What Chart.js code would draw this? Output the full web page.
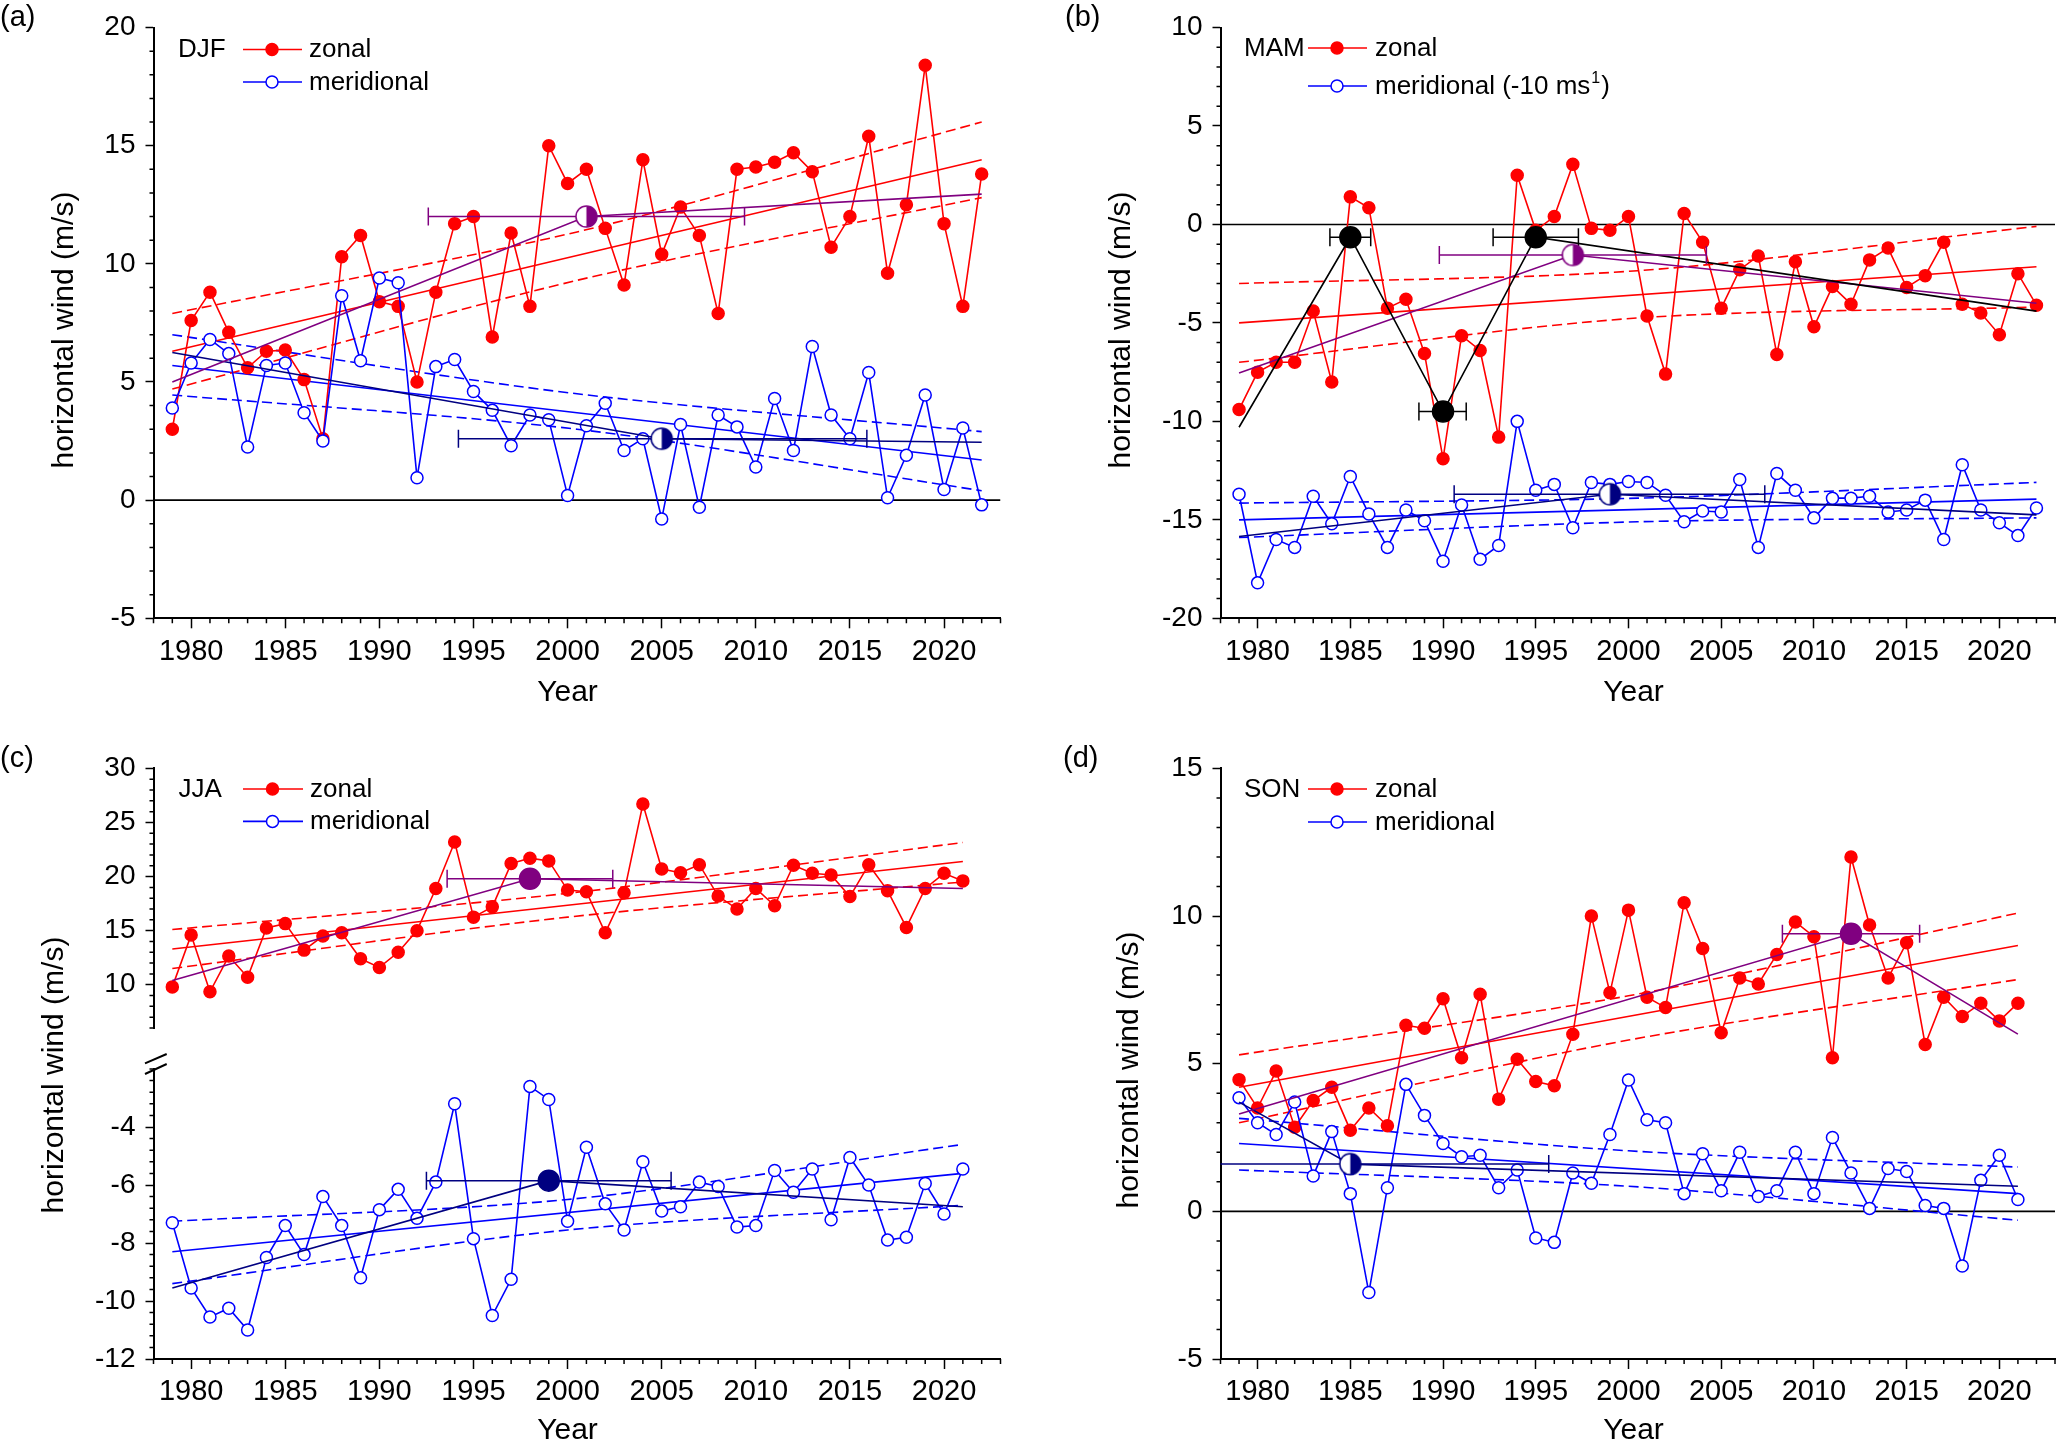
<!DOCTYPE html>
<html>
<head>
<meta charset="utf-8">
<script src="https://cdn.jsdelivr.net/npm/chart.js@4.4.0/dist/chart.umd.min.js"></script>
<style>
  body { margin: 0; background: #fff; }
  #fig { position: relative; width: 2067px; height: 1443px; overflow: hidden; background: #fff; }
  canvas { position: absolute; }
</style>
</head>
<body>
<div id="fig">
  <canvas id="pa"></canvas>
  <canvas id="pb"></canvas>
  <canvas id="pcTop"></canvas>
  <canvas id="pcBot"></canvas>
  <canvas id="pd"></canvas>
</div>
<script>
// ---- data ----
const yearsAB = [1979,1980,1981,1982,1983,1984,1985,1986,1987,1988,1989,1990,1991,1992,1993,1994,1995,1996,1997,1998,1999,2000,2001,2002,2003,2004,2005,2006,2007,2008,2009,2010,2011,2012,2013,2014,2015,2016,2017,2018,2019,2020,2021,2022];
const yearsCD = [1979,1980,1981,1982,1983,1984,1985,1986,1987,1988,1989,1990,1991,1992,1993,1994,1995,1996,1997,1998,1999,2000,2001,2002,2003,2004,2005,2006,2007,2008,2009,2010,2011,2012,2013,2014,2015,2016,2017,2018,2019,2020,2021];

const xTickYears = [1980,1985,1990,1995,2000,2005,2010,2015,2020];
const yTicksA = [-5,0,5,10,15,20];
const yTicksB = [-20,-15,-10,-5,0,5,10];
const yTicksCTop = [10,15,20,25,30];
const yTicksCBot = [-12,-10,-8,-6,-4];
const yTicksD = [-5,0,5,10,15];

// DJF
const djfZonal = [3.0,7.6,8.8,7.1,5.6,6.3,6.35,5.1,2.6,10.3,11.2,8.4,8.2,5.0,8.8,11.7,12.0,6.9,11.3,8.2,15.0,13.4,14.0,11.5,9.1,14.4,10.4,12.4,11.2,7.9,14.0,14.1,14.3,14.7,13.9,10.7,12.0,15.4,9.6,12.5,18.4,11.7,8.2,13.8];
const djfMerid = [3.9,5.8,6.8,6.2,2.25,5.7,5.8,3.7,2.5,8.65,5.9,9.4,9.2,0.95,5.65,5.95,4.6,3.8,2.3,3.6,3.4,0.2,3.15,4.1,2.1,2.6,-0.8,3.2,-0.3,3.6,3.1,1.4,4.3,2.1,6.5,3.6,2.6,5.4,0.1,1.9,4.45,0.45,3.05,-0.2];
// MAM (meridional shifted by -10 m/s)
const mamZonal = [-9.4,-7.5,-7.0,-7.0,-4.4,-8.0,1.4,0.85,-4.25,-3.8,-6.55,-11.9,-5.65,-6.4,-10.8,2.5,-0.3,0.4,3.05,-0.2,-0.3,0.4,-4.65,-7.6,0.55,-0.9,-4.25,-2.3,-1.6,-6.6,-1.9,-5.2,-3.15,-4.05,-1.8,-1.2,-3.2,-2.6,-0.9,-4.05,-4.5,-5.6,-2.5,-4.1];
const mamMerid = [-13.7,-18.2,-16.0,-16.4,-13.8,-15.2,-12.8,-14.7,-16.4,-14.5,-15.05,-17.1,-14.25,-17.0,-16.3,-10.0,-13.5,-13.2,-15.4,-13.1,-13.2,-13.05,-13.1,-13.75,-15.1,-14.55,-14.6,-12.95,-16.4,-12.65,-13.5,-14.9,-13.9,-13.9,-13.8,-14.6,-14.5,-14.0,-16.0,-12.2,-14.5,-15.15,-15.8,-14.4];
// JJA
const jjaZonal = [9.8,14.6,9.35,12.65,10.7,15.25,15.65,13.2,14.5,14.8,12.4,11.6,13.0,15.0,18.9,23.2,16.25,17.2,21.2,21.7,21.45,18.75,18.6,14.8,18.5,26.7,20.7,20.35,21.1,18.2,17.0,18.9,17.3,21.05,20.3,20.15,18.15,21.1,18.7,15.3,18.9,20.3,19.6];
const jjaMerid = [-7.3,-9.55,-10.55,-10.25,-11.0,-8.5,-7.4,-8.4,-6.4,-7.4,-9.2,-6.85,-6.15,-7.15,-5.9,-3.2,-7.85,-10.5,-9.25,-2.6,-3.05,-7.25,-4.7,-6.65,-7.55,-5.2,-6.9,-6.75,-5.9,-6.05,-7.45,-7.4,-5.5,-6.25,-5.45,-7.2,-5.05,-6.0,-7.9,-7.8,-5.95,-7.0,-5.45];
// SON
const sonZonal = [4.46,3.5,4.75,2.85,3.75,4.2,2.75,3.5,2.9,6.3,6.2,7.2,5.2,7.35,3.8,5.15,4.4,4.25,6.0,10.0,7.4,10.2,7.25,6.9,10.45,8.9,6.05,7.9,7.7,8.7,9.8,9.3,5.2,12.0,9.7,7.9,9.1,5.65,7.25,6.6,7.05,6.45,7.05];
const sonMerid = [3.85,3.0,2.6,3.7,1.2,2.7,0.6,-2.75,0.8,4.3,3.25,2.3,1.85,1.9,0.8,1.4,-0.9,-1.05,1.3,0.95,2.6,4.45,3.1,3.0,0.6,1.95,0.7,2.0,0.5,0.7,2.0,0.6,2.5,1.3,0.1,1.45,1.35,0.2,0.1,-1.85,1.05,1.9,0.4];

// linear fits (start, end) and 95% bands (start, middle, end)
const fitXAB = [1979, 2022];
const bandXAB = [1979, 2000.5, 2022];
const fitXCD = [1979, 2021];
const bandXCD = [1979, 2000, 2021];

const djfZonalFit = [6.3, 14.4];
const djfZonalHi = [7.9, 11.35, 16.0];
const djfZonalLo = [4.7, 9.3, 12.8];
const djfMeridFit = [5.7, 1.7];
const djfMeridHi = [7.0, 4.5, 2.9];
const djfMeridLo = [4.45, 3.0, 0.4];

const mamZonalFit = [-5.0, -2.15];
const mamZonalHi = [-3.0, -2.35, -0.1];
const mamZonalLo = [-7.0, -4.75, -4.2];
const mamMeridFit = [-15.0, -13.95];
const mamMeridHi = [-14.15, -13.9, -13.1];
const mamMeridLo = [-15.9, -15.1, -14.9];

const jjaZonalFit = [13.3, 21.4];
const jjaZonalHi = [15.1, 18.45, 23.15];
const jjaZonalLo = [11.5, 16.25, 19.5];
const jjaMeridFit = [-8.3, -5.6];
const jjaMeridHi = [-7.25, -6.5, -4.6];
const jjaMeridLo = [-9.4, -7.55, -6.7];

const sonZonalFit = [4.2, 9.0];
const sonZonalHi = [5.3, 7.3, 10.1];
const sonZonalLo = [3.0, 5.8, 7.85];
const sonMeridFit = [2.3, 0.6];
const sonMeridHi = [3.15, 2.05, 1.5];
const sonMeridLo = [1.4, 0.85, -0.3];

// change point (piecewise) fits and change point uncertainty (year range)
const djfZonalCpX = [1979, 2001, 2022];
const djfZonalCpY = [5.0, 12.0, 12.95];
const djfZonalCpErr = [[1992.6, 2009.4]];
const djfMeridCpX = [1979, 2005, 2022];
const djfMeridCpY = [6.25, 2.6, 2.45];
const djfMeridCpErr = [[1994.2, 2015.9]];

const mamZonalCpX = [1979, 1997, 2022];
const mamZonalCpY = [-7.55, -1.55, -4.0];
const mamZonalCpErr = [[1989.8, 2004.2]];
const mamBlackCpX = [1979, 1985, 1990, 1995, 2022];
const mamBlackCpY = [-10.3, -0.65, -9.5, -0.65, -4.4];
const mamBlackCpErr = [[1983.9, 1986.1], [1988.7, 1991.25], [1992.7, 1997.3]];
const mamMeridCpX = [1979, 1999, 2022];
const mamMeridCpY = [-15.85, -13.7, -14.75];
const mamMeridCpErr = [[1990.6, 2007.35]];

const jjaZonalCpX = [1979, 1998, 2021];
const jjaZonalCpY = [10.4, 19.8, 18.9];
const jjaZonalCpErr = [[1993.6, 2002.4]];
const jjaMeridCpX = [1979, 1999, 2021];
const jjaMeridCpY = [-9.55, -5.85, -6.75];
const jjaMeridCpErr = [[1992.5, 2005.5]];

const sonZonalCpX = [1979, 2012, 2021];
const sonZonalCpY = [3.3, 9.4, 6.0];
const sonZonalCpErr = [[2008.3, 2015.7]];
const sonMeridCpX = [1979, 1985, 2021];
const sonMeridCpY = [3.7, 1.6, 0.85];
const sonMeridCpErr = [[1977, 1995.7]];

// ---- drawing ----
const FONT = '"Liberation Sans", Arial, Helvetica, sans-serif';
const RED = '#ff0000', BLUE = '#0000ff', PURPLE = '#800080', NAVY = '#000080', BLACK = '#000000';
Chart.defaults.font.family = FONT;
Chart.defaults.color = '#000';

function pts(xs, ys) {
  return xs.map(function(x, i) { return { x: x, y: ys[i] }; });
}

function halfMarker(color, r) {
  const c = document.createElement('canvas');
  const s = Math.ceil(2 * r + 4);
  c.width = s; c.height = s;
  const g = c.getContext('2d');
  const m = s / 2;
  g.fillStyle = '#fff';
  g.beginPath(); g.arc(m, m, r, 0, 2 * Math.PI); g.fill();
  g.fillStyle = color;
  g.beginPath(); g.moveTo(m, m); g.arc(m, m, r, -Math.PI / 2, Math.PI / 2); g.closePath(); g.fill();
  g.strokeStyle = color; g.lineWidth = 1.5;
  g.beginPath(); g.arc(m, m, r, 0, 2 * Math.PI); g.stroke();
  return c;
}

function series(xs, ys, color, filled) {
  return {
    data: pts(xs, ys), showLine: true, borderColor: color, borderWidth: 1.6,
    pointRadius: 6, pointBorderWidth: 1.5, pointBorderColor: color,
    pointBackgroundColor: filled ? color : '#fff'
  };
}

function fitLine(xs, ys, color, dashed) {
  return {
    data: pts(xs, ys), showLine: true, borderColor: color, borderWidth: 1.6,
    borderDash: dashed ? [10, 5] : [], pointRadius: 0, tension: dashed ? 0.3 : 0
  };
}

function zeroLine() {
  return { data: [{ x: 1978, y: 0 }, { x: 2023, y: 0 }], showLine: true, borderColor: BLACK, borderWidth: 1.6, pointRadius: 0 };
}

function changepoint(cpX, cpY, errs, color, half) {
  const marks = [], bars = [];
  errs.forEach(function(e, k) {
    const i = k + 1;
    marks.push({
      data: [{ x: cpX[i], y: cpY[i] }], showLine: false,
      pointStyle: half ? halfMarker(color, 10.5) : 'circle', pointRadius: 10.5,
      pointBackgroundColor: color, pointBorderColor: color, pointBorderWidth: 1.5
    });
    bars.push({
      data: [{ x: e[0], y: cpY[i] }, { x: e[1], y: cpY[i] }], showLine: true,
      borderColor: color, borderWidth: 1.5, pointStyle: 'line', pointRotation: 90,
      pointRadius: 9, pointBorderColor: color, pointBorderWidth: 1.5, clip: 0
    });
  });
  return { marks: marks, bars: bars, line: fitLine(cpX, cpY, color, false) };
}

// minor ticks (axis decoration) drawn from the chart's own scales
function minorPlugin(xMinor, yMinor, showX) {
  return {
    id: 'minor',
    afterDraw: function(chart) {
      const ctx = chart.ctx, a = chart.chartArea;
      const sx = chart.scales.x, sy = chart.scales.y;
      ctx.save();
      ctx.strokeStyle = '#000'; ctx.lineWidth = 1.5;
      ctx.beginPath();
      if (showX) {
        const n = Math.round((sx.max - sx.min) / xMinor);
        for (let i = 0; i <= n; i++) {
          const v = sx.min + i * xMinor;
          if (xTickYears.indexOf(Math.round(v)) >= 0 && Math.abs(v - Math.round(v)) < 1e-6) continue;
          const p = sx.getPixelForValue(v);
          ctx.moveTo(p, a.bottom); ctx.lineTo(p, a.bottom + 5);
        }
      }
      const majors = sy.ticks.map(function(t) { return t.value; });
      const m = Math.round((sy.max - sy.min) / yMinor);
      for (let i = 0; i <= m; i++) {
        const v = sy.min + i * yMinor;
        if (majors.some(function(t) { return Math.abs(t - v) < 1e-6; })) continue;
        const p = sy.getPixelForValue(v);
        ctx.moveTo(a.left, p); ctx.lineTo(a.left - 4, p);
      }
      ctx.stroke();
      ctx.restore();
    }
  };
}

function decoPlugin(d) {
  return {
    id: 'deco',
    afterDraw: function(chart) {
      const ctx = chart.ctx;
      ctx.save();
      ctx.fillStyle = '#000';
      ctx.textBaseline = 'alphabetic';
      if (d.tag) {
        ctx.textAlign = 'left';
        ctx.font = '29px ' + FONT;
        ctx.fillText(d.tag, d.tagX, d.tagY);
      }
      if (d.yearX !== undefined) {
        ctx.textAlign = 'center';
        ctx.font = '30px ' + FONT;
        ctx.fillText('Year', d.yearX, d.yearY);
      }
      if (d.titleX !== undefined) {
        ctx.save();
        ctx.translate(d.titleX, d.titleY);
        ctx.rotate(-Math.PI / 2);
        ctx.textAlign = 'center';
        ctx.textBaseline = 'middle';
        ctx.font = '30px ' + FONT;
        ctx.fillText('horizontal wind (m/s)', 0, 0);
        ctx.restore();
      }
      const L = d.legend;
      if (L) {
        ctx.textAlign = 'left';
        ctx.font = '26px ' + FONT;
        ctx.fillText(L.season, L.sx, L.y1 + 7.5);
        ctx.fillText('zonal', L.tx, L.y1 + 7.5);
        ctx.fillText(L.merid, L.tx, L.y2 + 7.5);
        if (L.sup) {
          const w = ctx.measureText(L.merid).width;
          ctx.font = '16px ' + FONT;
          ctx.fillText(L.sup, L.tx + w + 1, L.y2 + 7.5 - 11);
          const w2 = ctx.measureText(L.sup).width;
          ctx.font = '26px ' + FONT;
          ctx.fillText(')', L.tx + w + w2 + 2, L.y2 + 7.5);
        }
        ctx.lineWidth = 1.6;
        ctx.strokeStyle = RED;
        ctx.beginPath(); ctx.moveTo(L.l1, L.y1); ctx.lineTo(L.l2, L.y1); ctx.stroke();
        ctx.fillStyle = RED; ctx.lineWidth = 1.5;
        ctx.beginPath(); ctx.arc(L.mx, L.y1, 6, 0, 2 * Math.PI); ctx.fill(); ctx.stroke();
        ctx.lineWidth = 1.6;
        ctx.strokeStyle = BLUE;
        ctx.beginPath(); ctx.moveTo(L.l1, L.y2); ctx.lineTo(L.l2, L.y2); ctx.stroke();
        ctx.fillStyle = '#fff'; ctx.lineWidth = 1.5;
        ctx.beginPath(); ctx.arc(L.mx, L.y2, 6, 0, 2 * Math.PI); ctx.fill(); ctx.stroke();
      }
      if (d.breaks) {
        ctx.strokeStyle = '#000'; ctx.lineWidth = 2;
        d.breaks.forEach(function(b) {
          ctx.beginPath(); ctx.moveTo(b[0], b[1]); ctx.lineTo(b[2], b[3]); ctx.stroke();
        });
      }
      ctx.restore();
    }
  };
}

function makePanel(p) {
  const cv = document.getElementById(p.id);
  cv.width = p.box.w; cv.height = p.box.h;
  cv.style.left = p.box.x + 'px'; cv.style.top = p.box.y + 'px';
  cv.style.width = p.box.w + 'px'; cv.style.height = p.box.h + 'px';
  const area = p.area, box = p.box;
  return new Chart(cv, {
    type: 'scatter',
    data: { datasets: p.datasets },
    options: {
      responsive: false,
      animation: false,
      events: [],
      devicePixelRatio: 1,
      layout: { padding: { left: 0, top: area.t, right: box.w - area.r, bottom: p.showX ? 0 : box.h - area.b } },
      plugins: { legend: { display: false }, tooltip: { enabled: false } },
      scales: {
        x: {
          type: 'linear', min: 1978, max: 2023, display: p.showX,
          afterBuildTicks: function(s) { s.ticks = xTickYears.map(function(v) { return { value: v }; }); },
          afterFit: function(s) { s.height = box.h - area.b; },
          grid: { drawOnChartArea: false, drawTicks: true, tickLength: 10, tickWidth: 1.5, tickColor: '#000' },
          border: { display: true, color: '#000', width: 2 },
          ticks: { font: { size: 29 }, color: '#000', padding: 6, maxRotation: 0, autoSkip: false,
                   callback: function(v) { return String(v); } }
        },
        y: {
          type: 'linear', min: p.y.min, max: p.y.max,
          afterBuildTicks: function(s) { s.ticks = p.y.ticks.map(function(v) { return { value: v }; }); },
          afterFit: function(s) { s.width = area.l; },
          grid: { drawOnChartArea: false, drawTicks: true, tickLength: 8, tickWidth: 1.5, tickColor: '#000' },
          border: { display: true, color: '#000', width: 2 },
          ticks: { font: { size: 28 }, color: '#000', padding: 10, autoSkip: false,
                   callback: function(v) { return String(v); } }
        }
      }
    },
    plugins: [minorPlugin(1, p.y.minor, p.showX), decoPlugin(p.deco)]
  });
}

// panel (a) DJF
const aZ = changepoint(djfZonalCpX, djfZonalCpY, djfZonalCpErr, PURPLE, true);
const aM = changepoint(djfMeridCpX, djfMeridCpY, djfMeridCpErr, NAVY, true);
makePanel({
  id: 'pa', box: { x: 0, y: 0, w: 1034, h: 720 }, area: { l: 153.5, t: 27.5, r: 1000.5, b: 618.3 }, showX: true,
  y: { min: -5, max: 20, ticks: yTicksA, minor: 1 },
  datasets: [].concat(aZ.marks, aM.marks, aZ.bars, aM.bars, [aZ.line, aM.line,
    series(yearsAB, djfMerid, BLUE, false), series(yearsAB, djfZonal, RED, true),
    fitLine(fitXAB, djfZonalFit, RED, false), fitLine(bandXAB, djfZonalHi, RED, true), fitLine(bandXAB, djfZonalLo, RED, true),
    fitLine(fitXAB, djfMeridFit, BLUE, false), fitLine(bandXAB, djfMeridHi, BLUE, true), fitLine(bandXAB, djfMeridLo, BLUE, true),
    zeroLine()]),
  deco: { tag: '(a)', tagX: 0, tagY: 26, yearX: 567.5, yearY: 700.5, titleX: 65, titleY: 330,
          legend: { season: 'DJF', sx: 178, l1: 243, l2: 302, mx: 272, tx: 309, y1: 49.5, y2: 82, merid: 'meridional' } }
});

// panel (b) MAM
const bZ = changepoint(mamZonalCpX, mamZonalCpY, mamZonalCpErr, PURPLE, true);
const bK = changepoint(mamBlackCpX, mamBlackCpY, mamBlackCpErr, BLACK, false);
const bM = changepoint(mamMeridCpX, mamMeridCpY, mamMeridCpErr, NAVY, true);
makePanel({
  id: 'pb', box: { x: 1034, y: 0, w: 1033, h: 720 }, area: { l: 186.5, t: 27.5, r: 1031, b: 618.3 }, showX: true,
  y: { min: -20, max: 10, ticks: yTicksB, minor: 1 },
  datasets: [].concat(bK.marks, bZ.marks, bM.marks, bK.bars, bZ.bars, bM.bars, [bK.line, bZ.line, bM.line,
    series(yearsAB, mamMerid, BLUE, false), series(yearsAB, mamZonal, RED, true),
    fitLine(fitXAB, mamZonalFit, RED, false), fitLine(bandXAB, mamZonalHi, RED, true), fitLine(bandXAB, mamZonalLo, RED, true),
    fitLine(fitXAB, mamMeridFit, BLUE, false), fitLine(bandXAB, mamMeridHi, BLUE, true), fitLine(bandXAB, mamMeridLo, BLUE, true),
    zeroLine()]),
  deco: { tag: '(b)', tagX: 31, tagY: 26, yearX: 599.5, yearY: 700.5, titleX: 88, titleY: 330,
          legend: { season: 'MAM', sx: 210, l1: 274, l2: 333, mx: 303, tx: 341, y1: 48, y2: 86,
                    merid: 'meridional (-10 ms', sup: '1' } }
});

// panel (c) JJA, broken axis: upper part zonal, lower part meridional
const cZ = changepoint(jjaZonalCpX, jjaZonalCpY, jjaZonalCpErr, PURPLE, false);
const cM = changepoint(jjaMeridCpX, jjaMeridCpY, jjaMeridCpErr, NAVY, false);
makePanel({
  id: 'pcTop', box: { x: 0, y: 700, w: 1034, h: 390 }, area: { l: 153.5, t: 68.4, r: 1000.5, b: 359 }, showX: false,
  y: { min: 6, max: 30, ticks: yTicksCTop, minor: 1 },
  datasets: [].concat(cZ.marks, cZ.bars, [cZ.line, series(yearsCD, jjaZonal, RED, true),
    fitLine(fitXCD, jjaZonalFit, RED, false), fitLine(bandXCD, jjaZonalHi, RED, true), fitLine(bandXCD, jjaZonalLo, RED, true)]),
  deco: {}
});
makePanel({
  id: 'pcBot', box: { x: 0, y: 720, w: 1034, h: 723 }, area: { l: 153.5, t: 349, r: 1000.5, b: 639 }, showX: true,
  y: { min: -12, max: -2, ticks: yTicksCBot, minor: 0.4 },
  datasets: [].concat(cM.marks, cM.bars, [cM.line, series(yearsCD, jjaMerid, BLUE, false),
    fitLine(fitXCD, jjaMeridFit, BLUE, false), fitLine(bandXCD, jjaMeridHi, BLUE, true), fitLine(bandXCD, jjaMeridLo, BLUE, true)]),
  deco: { tag: '(c)', tagX: 0, tagY: 47, yearX: 567.5, yearY: 719, titleX: 54.6, titleY: 355,
          legend: { season: 'JJA', sx: 178.6, l1: 243, l2: 303, mx: 272.5, tx: 310, y1: 69, y2: 101.4, merid: 'meridional' },
          breaks: [[145, 343.3, 166.7, 334], [145, 354, 166.7, 344]] }
});

// panel (d) SON
const dZ = changepoint(sonZonalCpX, sonZonalCpY, sonZonalCpErr, PURPLE, false);
const dM = changepoint(sonMeridCpX, sonMeridCpY, sonMeridCpErr, NAVY, true);
makePanel({
  id: 'pd', box: { x: 1034, y: 720, w: 1033, h: 723 }, area: { l: 186.5, t: 48.4, r: 1031, b: 639 }, showX: true,
  y: { min: -5, max: 15, ticks: yTicksD, minor: 1 },
  datasets: [].concat(dZ.marks, dM.marks, dZ.bars, dM.bars, [dZ.line, dM.line,
    series(yearsCD, sonMerid, BLUE, false), series(yearsCD, sonZonal, RED, true),
    fitLine(fitXCD, sonZonalFit, RED, false), fitLine(bandXCD, sonZonalHi, RED, true), fitLine(bandXCD, sonZonalLo, RED, true),
    fitLine(fitXCD, sonMeridFit, BLUE, false), fitLine(bandXCD, sonMeridHi, BLUE, true), fitLine(bandXCD, sonMeridLo, BLUE, true),
    zeroLine()]),
  deco: { tag: '(d)', tagX: 29, tagY: 47, yearX: 599.5, yearY: 719, titleX: 96, titleY: 350,
          legend: { season: 'SON', sx: 210, l1: 274, l2: 333, mx: 303, tx: 341, y1: 69, y2: 102, merid: 'meridional' } }
});
</script>
</body>
</html>
